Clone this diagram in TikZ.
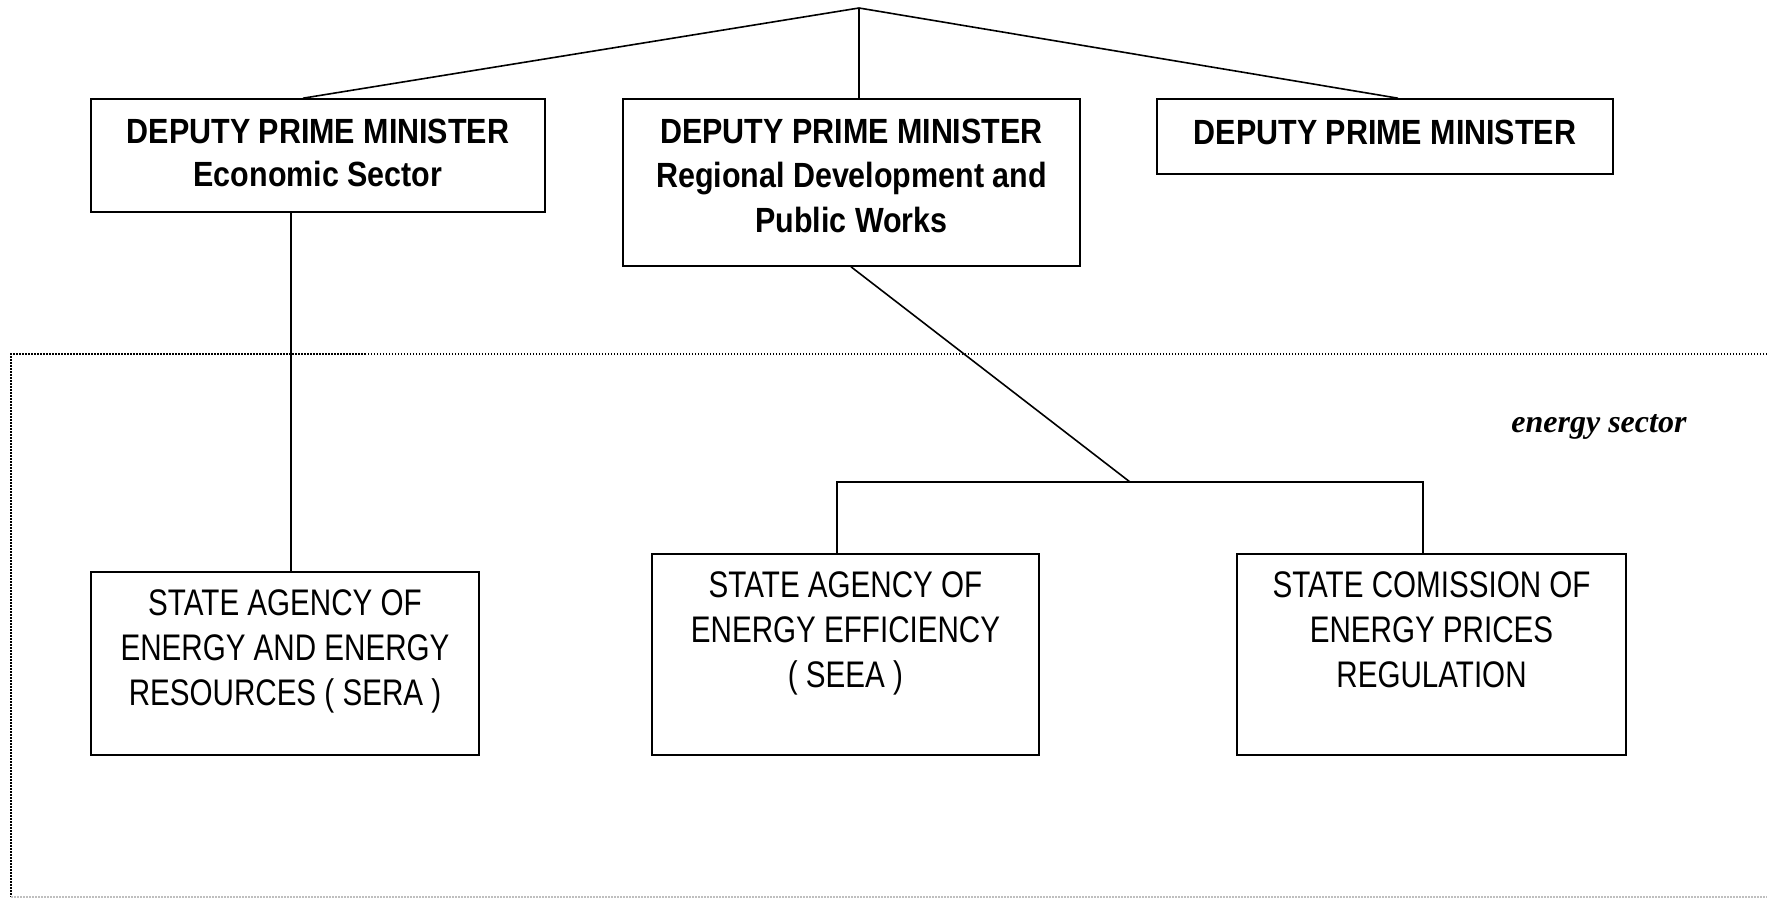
\documentclass[tikz,border=0pt]{standalone}
\usepackage{fontspec}
\setmainfont{Liberation Sans}
\newfontfamily\narrowfont{Liberation Sans}[FakeStretch=0.80]
\newfontfamily\narrowboldfont{Liberation Sans}[FakeStretch=0.87]
\newfontfamily\timesfont{Liberation Serif}
\usepackage{tikz}
\usetikzlibrary{positioning}

% box content: width, height, first baseline, text
\newcommand{\boxtext}[4]{\parbox[c][#2][t]{#1}{\centering\rule{0pt}{#3}#4}}

\begin{document}
\begin{tikzpicture}[
    x=1pt, y=-1pt,
    minister/.style={
        draw,
        line width=1.6pt,
        inner sep=0pt,
        font=\narrowboldfont\bfseries\fontsize{35}{43}\selectfont
    },
    agency/.style={
        draw,
        line width=1.6pt,
        inner sep=0pt,
        font=\narrowfont\fontsize{37}{45}\selectfont
    },
    link/.style={
        line width=1.6pt,
        draw=black
    },
    sector/.style={
        line width=1.6pt,
        draw=black,
        dash pattern=on 1.5pt off 1.5pt
    }
]
\useasboundingbox (0,0) rectangle (1767,899);

% Frame of the energy sector
\draw [sector] (1767,354) -- (11,354) -- (11,897);
\draw [sector, draw=black!25] (11,897) -- (1767,897);

% Nodes
\node (dpm1) [minister] at (318,155.5) {\boxtext{454pt}{113pt}{44pt}{DEPUTY PRIME MINISTER\\Economic Sector}};
\node (dpm2) [minister, font=\narrowboldfont\bfseries\fontsize{35}{44.5}\selectfont] at (851.5,182.5) {\boxtext{457pt}{167pt}{44pt}{DEPUTY PRIME MINISTER\\Regional Development and\\Public Works}};
\node (dpm3) [minister] at (1385,136.5) {\boxtext{456pt}{75pt}{45pt}{DEPUTY PRIME MINISTER}};
\node (sera) [agency] at (285,663.5) {\boxtext{388pt}{183pt}{43pt}{STATE AGENCY OF\\ENERGY AND ENERGY\\RESOURCES ( SERA )}};
\node (seea) [agency] at (845.5,654.5) {\boxtext{387pt}{201pt}{43pt}{STATE AGENCY OF\\ENERGY EFFICIENCY\\( SEEA )}};
\node (comm) [agency] at (1431.5,654.5) {\boxtext{389pt}{201pt}{43pt}{STATE COMISSION OF\\ENERGY PRICES\\REGULATION}};
\node (esector) [anchor=base east, font=\timesfont\bfseries\itshape\fontsize{32}{38}\selectfont] at (1690,432) {energy sector};

\coordinate (apex) at (859,8);
\coordinate (fork) at (1130,482);

% Paths
\draw [link] (apex) -- ([xshift=-15pt]dpm1.north);
\draw [link] (apex) -- ([xshift=7.5pt]dpm2.north);
\draw [link] (apex) -- ([xshift=13pt]dpm3.north);
\draw [link] ([xshift=-27pt]dpm1.south) -- ([xshift=6pt]sera.north);
\draw [link] ([xshift=-0.5pt]dpm2.south) -- (fork);
\draw [link] ([xshift=-8.5pt]seea.north) |- (fork) -| ([xshift=-8.5pt]comm.north);

\end{tikzpicture}
\end{document}
